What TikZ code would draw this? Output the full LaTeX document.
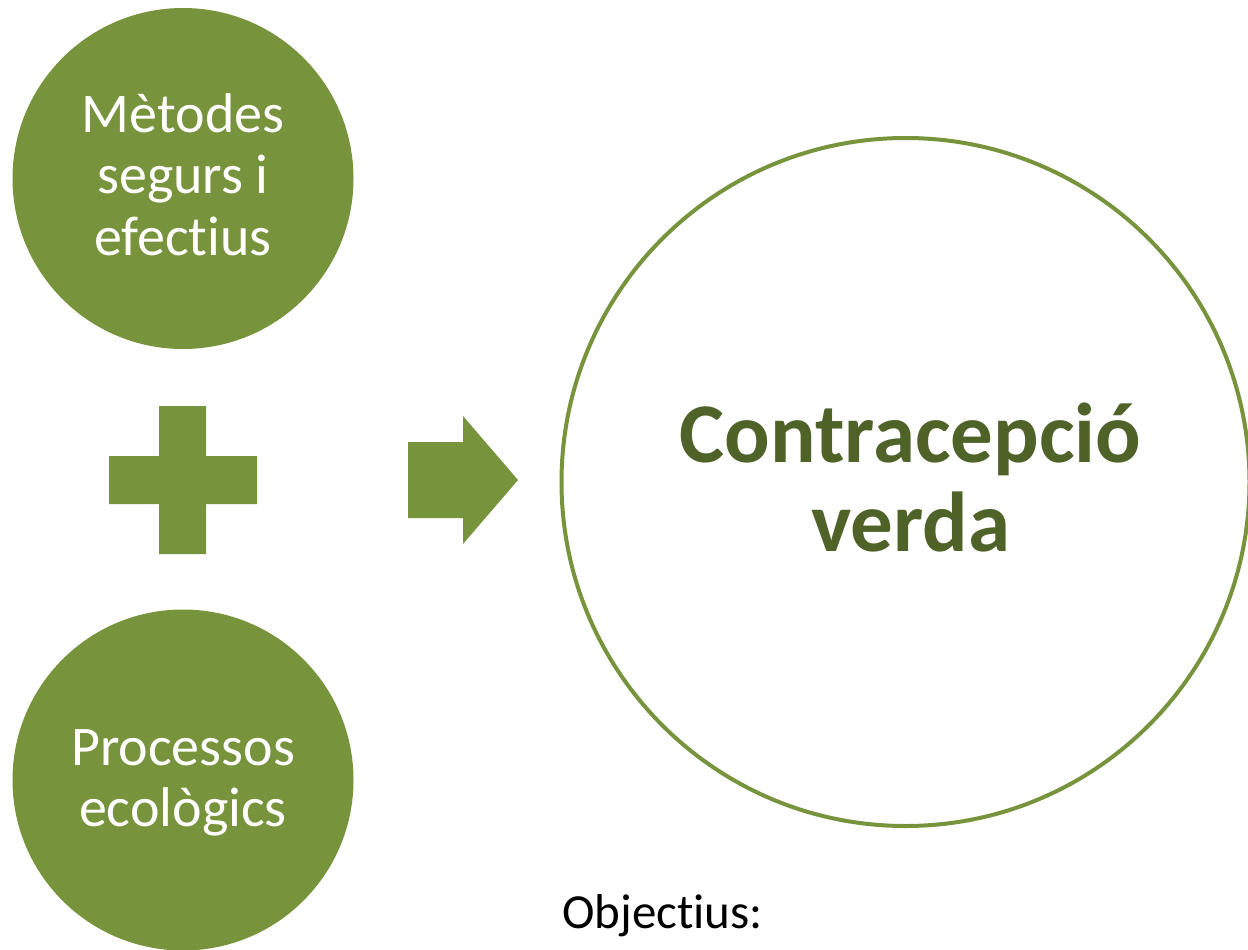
\documentclass[tikz,border=0pt]{standalone}
\usepackage{fontspec}
\setmainfont{Carlito}[Ligatures={NoCommon,NoRare,NoDiscretionary}]
\definecolor{olive}{HTML}{77933C}
\definecolor{darkolive}{HTML}{4F6228}
\begin{document}
\begin{tikzpicture}[x=1pt,y=-1pt,
  bubble/.style={circle, fill=olive, inner sep=0pt, minimum size=341pt},
  bubbletext/.style={text=white, align=center, inner sep=0pt, font=\fontsize{56}{61.5}\selectfont},
  bigring/.style={circle, draw=olive, line width=4pt, inner sep=0pt, minimum size=688pt},
  bigtext/.style={text=darkolive, align=center, inner sep=0pt, font=\fontsize{85}{89}\selectfont\bfseries},
  shapefill/.style={fill=olive}]
\useasboundingbox (0,0) rectangle (1248,950);
\clip (0,0) rectangle (1248,950);
\node[bubble] (metodes) at (183,178.5) {};
\node[bubbletext] (metodesT) at (183,174.5) {Mètodes\\segurs i\\efectius};
\node[bubble] (processos) at (183,780) {};
\node[bubbletext] (processosT) at (183,783) {Processos\\ecològics};
\node[bigring] (contra) at (905.5,482) {};
\node[bigtext] (contraT) at (910.5,477) {Contracepció\\verda};
% plus sign
\path[shapefill] (159,406) -- (206,406) -- (206,456) -- (257,456) -- (257,504) -- (206,504)
  -- (206,554) -- (159,554) -- (159,504) -- (109,504) -- (109,456) -- (159,456) -- cycle;
% arrow
\path[shapefill] (408,442) -- (463,442) -- (463,416) -- (518,480) -- (463,544) -- (463,518) -- (408,518) -- cycle;
\node[anchor=base west, inner sep=0pt, font=\fontsize{49}{60}\selectfont] (obj) at (562,928) {Objectius:};
\end{tikzpicture}
\end{document}
